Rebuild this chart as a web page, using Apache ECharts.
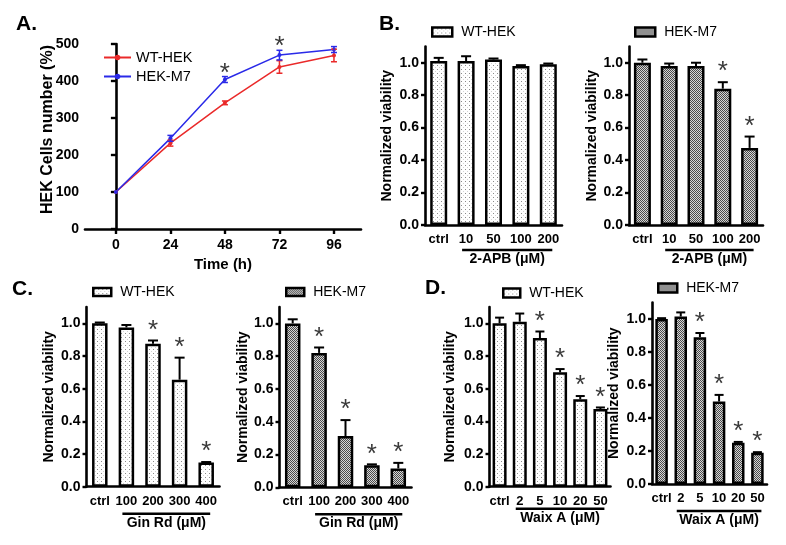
<!DOCTYPE html>
<html><head><meta charset="utf-8">
<script src="https://cdn.jsdelivr.net/npm/echarts@6/dist/echarts.min.js"></script>
<style>html,body{margin:0;padding:0;background:#fff}#c{width:786px;height:545px}</style>
</head><body><div id="c"></div>
<script>
// ---------- data ----------
const timeH = [0, 24, 48, 72, 96];
const timeTicks = [0, 24, 48, 72, 96];
const wtGrowth = [100, 232, 341, 438, 469];
const wtGrowthErr = [0, 8, 5, 17, 17];
const m7Growth = [100, 245, 404, 470, 485];
const m7GrowthErr = [0, 8, 8, 13, 8];
const growthStars = [0, 0, 1, 1, 0];

const apbCats = ['ctrl', '10', '50', '100', '200'];
const apbWT = [1.01, 1.01, 1.02, 0.98, 0.99];
const apbWTErr = [0.02, 0.03, 0.006, 0.005, 0.005];
const apbWTStars = [0, 0, 0, 0, 0];
const apbM7 = [1.0, 0.98, 0.98, 0.84, 0.475];
const apbM7Err = [0.02, 0.015, 0.02, 0.04, 0.07];
const apbM7Stars = [0, 0, 0, 1, 1];

const ginCats = ['ctrl', '100', '200', '300', '400'];
const ginWT = [1.0, 0.975, 0.875, 0.655, 0.148];
const ginWTErr = [0.005, 0.015, 0.02, 0.135, 0.003];
const ginWTStars = [0, 0, 1, 1, 1];
const ginM7 = [1.0, 0.82, 0.313, 0.135, 0.115];
const ginM7Err = [0.025, 0.033, 0.097, 0.005, 0.034];
const ginM7Stars = [0, 1, 1, 1, 1];

const waixCats = ['ctrl', '2', '5', '10', '20', '50'];
const waixWT = [1.0, 1.01, 0.91, 0.70, 0.535, 0.475];
const waixWTErr = [0.035, 0.05, 0.04, 0.02, 0.02, 0.01];
const waixWTStars = [0, 0, 1, 1, 1, 1];
const waixM7 = [1.0, 1.015, 0.89, 0.50, 0.25, 0.19];
const waixM7Err = [0.005, 0.025, 0.025, 0.04, 0.005, 0.003];
const waixM7Stars = [0, 0, 1, 1, 1, 1];

const viabTicks = [0, 0.2, 0.4, 0.6, 0.8, 1.0];

// ---------- styles ----------
const FF = 'Liberation Sans, Arial, sans-serif';
function pat(size, bg, dots) {
  const c = document.createElement('canvas'); c.width = c.height = size;
  const g = c.getContext('2d'); g.fillStyle = bg; g.fillRect(0, 0, size, size);
  dots.forEach(d => { g.fillStyle = d[2]; g.fillRect(d[0], d[1], 1, 1); });
  return { image: c, repeat: 'repeat' };
}
const wtFill = pat(4, '#ffffff', [[1, 1, '#8a8a8a'], [3, 3, '#d4d4d4']]);
const m7Fill = pat(2, '#d6d6d6', [[0, 0, '#4a4a4a'], [1, 1, '#4a4a4a']]);

const grids = [
  { left: 85, top: 44, width: 276, height: 185 },
  { left: 425, top: 46.5, width: 137, height: 178.5 },
  { left: 629, top: 46.5, width: 134, height: 178.5 },
  { left: 86.5, top: 307, width: 133, height: 179.7 },
  { left: 279.5, top: 307, width: 132, height: 180.3 },
  { left: 489.5, top: 307, width: 121, height: 179.7 },
  { left: 652, top: 302.5, width: 115, height: 181.5 }
].map(g => Object.assign({ outerBoundsMode: 'none', containLabel: false }, g));

const axisLineStyle = { color: '#000', width: 2.6 };

const xAxes = [{
  gridIndex: 0, type: 'value', min: -13.6, max: 107.9,
  axisLine: { lineStyle: axisLineStyle }, splitLine: { show: false },
  axisTick: { length: 5, lineStyle: { width: 2.4, color: '#000' }, customValues: timeTicks },
  axisLabel: { customValues: timeTicks, color: '#000', fontFamily: FF, fontWeight: 'bold', fontSize: 14, margin: 9 },
  name: 'Time (h)', nameLocation: 'middle', nameGap: 28,
  nameTextStyle: { color: '#000', fontFamily: FF, fontWeight: 'bold', fontSize: 15 }
}];
const yAxes = [{
  gridIndex: 0, type: 'value', min: 0, max: 500, interval: 100,
  axisLine: { show: true, lineStyle: axisLineStyle }, splitLine: { show: false },
  axisTick: { show: true, length: 5, lineStyle: { width: 2.4, color: '#000' } },
  axisLabel: { color: '#000', fontFamily: FF, fontWeight: 'bold', fontSize: 14, margin: 6 },
  name: 'HEK Cells number (%)', nameLocation: 'middle', nameGap: 29, nameMoveOverlap: false,
  nameTextStyle: { color: '#000', fontFamily: FF, fontWeight: 'bold', fontSize: 16, padding: [0, 0, 0, 14] }
}];
const barPanels = [
  { g: 1, cats: apbCats, nameGap: 31 },
  { g: 2, cats: apbCats, nameGap: 28 },
  { g: 3, cats: ginCats, nameGap: 30 },
  { g: 4, cats: ginCats, nameGap: 29 },
  { g: 5, cats: waixCats, nameGap: 32 },
  { g: 6, cats: waixCats, nameGap: 31 }
];
barPanels.forEach(p => {
  xAxes.push({
    gridIndex: p.g, type: 'category', data: p.cats,
    axisLine: { lineStyle: axisLineStyle },
    axisTick: { alignWithLabel: true, length: 4, lineStyle: { width: 2.4, color: '#000' } },
    axisLabel: { interval: 0, color: '#000', fontFamily: FF, fontWeight: 'bold', fontSize: 13, margin: 8 }
  });
  yAxes.push({
    gridIndex: p.g, type: 'value', min: 0, max: 1.1,
    axisLine: { show: true, lineStyle: axisLineStyle }, splitLine: { show: false },
    axisTick: { show: true, length: 4, lineStyle: { width: 2.4, color: '#000' }, customValues: viabTicks },
    axisLabel: { customValues: viabTicks, formatter: v => v.toFixed(1), color: '#000', fontFamily: FF, fontWeight: 'bold', fontSize: 14, margin: 6 },
    name: 'Normalized viability', nameLocation: 'middle', nameGap: p.nameGap,
    nameTextStyle: { color: '#000', fontFamily: FF, fontWeight: 'bold', fontSize: 14 }
  });
});

function errSeries(idx, vals, errs, stars, opts) {
  return {
    type: 'custom', xAxisIndex: idx, yAxisIndex: idx, clip: false, z: 5, silent: true,
    data: vals.map((v, i) => [opts.xs ? opts.xs[i] : i, v, errs[i], stars[i]]),
    renderItem: (params, api) => {
      const x = api.value(0), v = api.value(1), e = api.value(2), s = api.value(3);
      const children = [];
      const color = opts.color || '#000';
      if (e > 0) {
        const lo = api.coord([x, opts.both ? v - e : v]);
        const hi = api.coord([x, v + e]);
        children.push({ type: 'line', shape: { x1: lo[0], y1: lo[1], x2: hi[0], y2: hi[1] }, style: { stroke: color, lineWidth: opts.lw || 2 } });
        children.push({ type: 'line', shape: { x1: hi[0] - opts.cap, y1: hi[1], x2: hi[0] + opts.cap, y2: hi[1] }, style: { stroke: color, lineWidth: opts.lw || 2 } });
        if (opts.both) children.push({ type: 'line', shape: { x1: lo[0] - opts.cap, y1: lo[1], x2: lo[0] + opts.cap, y2: lo[1] }, style: { stroke: color, lineWidth: opts.lw || 2 } });
      }
      if (s) {
        const hi = api.coord([x, v + e]);
        children.push({ type: 'text', style: { text: '*', x: hi[0], y: hi[1] - opts.starGap, align: 'center', verticalAlign: 'middle', textAlign: 'center', textVerticalAlign: 'middle', fill: '#3a3a3a', font: 'normal 26px ' + FF } });
      }
      return { type: 'group', children };
    }
  };
}
function bracketSeries(idx, first, last, label, gap) {
  return {
    type: 'custom', xAxisIndex: idx, yAxisIndex: idx, clip: false, silent: true,
    data: [[first, last]],
    renderItem: (params, api) => {
      const a = api.coord([api.value(0), 0]);
      const b = api.coord([api.value(1), 0]);
      const y = a[1] + gap;
      return { type: 'group', children: [
        { type: 'line', shape: { x1: a[0] - 4, y1: y, x2: b[0] + 4, y2: y }, style: { stroke: '#000', lineWidth: 2.4 } },
        { type: 'text', style: { text: label, x: (a[0] + b[0]) / 2, y: y + 2, align: 'center', verticalAlign: 'top', textAlign: 'center', textVerticalAlign: 'top', fill: '#000', font: 'bold 14px ' + FF } }
      ] };
    }
  };
}
function barSeries(idx, name, vals, fill, bw) {
  return {
    type: 'bar', name, xAxisIndex: idx, yAxisIndex: idx, data: vals, barWidth: bw,
    itemStyle: { color: fill, borderColor: '#000', borderWidth: 2.5 }, silent: true
  };
}

const series = [
  { type: 'line', name: 'WT-HEK', xAxisIndex: 0, yAxisIndex: 0, data: timeH.map((t, i) => [t, wtGrowth[i]]),
    symbol: 'circle', symbolSize: 4, itemStyle: { color: '#ea2a2a' }, lineStyle: { color: '#ea2a2a', width: 1.5 } },
  { type: 'line', name: 'HEK-M7', xAxisIndex: 0, yAxisIndex: 0, data: timeH.map((t, i) => [t, m7Growth[i]]),
    symbol: 'circle', symbolSize: 4, itemStyle: { color: '#2a2ae8' }, lineStyle: { color: '#2a2ae8', width: 1.5 } },
  errSeries(0, wtGrowth, wtGrowthErr, [0, 0, 0, 0, 0], { xs: timeH, both: true, cap: 3, color: '#ea2a2a', lw: 1.5, starGap: 4 }),
  errSeries(0, m7Growth, m7GrowthErr, growthStars, { xs: timeH, both: true, cap: 3, color: '#2a2ae8', lw: 1.5, starGap: 3 }),

  barSeries(1, 'WT-HEK bar', apbWT, wtFill, 17),
  errSeries(1, apbWT, apbWTErr, apbWTStars, { cap: 5, starGap: 10 }),
  bracketSeries(1, 1, 4, '2-APB (\u03BCM)', 25),
  barSeries(2, 'HEK-M7 bar', apbM7, m7Fill, 17),
  errSeries(2, apbM7, apbM7Err, apbM7Stars, { cap: 5, starGap: 10 }),
  bracketSeries(2, 1, 4, '2-APB (\u03BCM)', 25),

  barSeries(3, 'WT-HEK bar', ginWT, wtFill, 15.5),
  errSeries(3, ginWT, ginWTErr, ginWTStars, { cap: 5, starGap: 10 }),
  bracketSeries(3, 1, 4, 'Gin Rd (\u03BCM)', 27),
  barSeries(4, 'HEK-M7 bar', ginM7, m7Fill, 15.5),
  errSeries(4, ginM7, ginM7Err, ginM7Stars, { cap: 5, starGap: 10 }),
  bracketSeries(4, 1, 4, 'Gin Rd (\u03BCM)', 27),

  barSeries(5, 'WT-HEK bar', waixWT, wtFill, 14),
  errSeries(5, waixWT, waixWTErr, waixWTStars, { cap: 4.5, starGap: 10 }),
  bracketSeries(5, 1, 5, 'Waix A (\u03BCM)', 22),
  barSeries(6, 'HEK-M7 bar', waixM7, m7Fill, 12.5),
  errSeries(6, waixM7, waixM7Err, waixM7Stars, { cap: 4.5, starGap: 10 }),
  bracketSeries(6, 1, 5, 'Waix A (\u03BCM)', 27)
];

const legTxt = { color: '#000', fontFamily: FF, fontSize: 14 };
const barLeg = (name, fill, left, top, w, h) => ({
  data: [{ name, icon: 'rect' }], left, top, itemWidth: w, itemHeight: h, selectedMode: false,
  formatter: n => ' ' + n.replace(' bar', ''), textStyle: legTxt,
  itemStyle: { color: fill, borderColor: '#000', borderWidth: 2.5 }, padding: 0
});
const legends = [
  { data: ['WT-HEK', 'HEK-M7'], orient: 'vertical', left: 103, top: 50, itemWidth: 27, itemHeight: 7, itemGap: 4,
    selectedMode: false, textStyle: Object.assign({}, legTxt, { fontSize: 14.5 }), padding: 0 },
  barLeg('WT-HEK bar', wtFill, 431, 25, 20, 9),
  barLeg('HEK-M7 bar', m7Fill, 634, 25, 20, 9),
  barLeg('WT-HEK bar', wtFill, 92, 285, 18, 8),
  barLeg('HEK-M7 bar', m7Fill, 285, 285, 18, 8),
  barLeg('WT-HEK bar', wtFill, 502, 286, 17, 9),
  barLeg('HEK-M7 bar', m7Fill, 657, 281, 19, 9)
];

const ptitle = (text, left, top) => ({ text, left, top, padding: 0, textStyle: { fontFamily: FF, fontWeight: 'bold', fontSize: 21, color: '#000' } });

const chart = echarts.init(document.getElementById('c'), null, { renderer: 'canvas' });
chart.setOption({
  animation: false,
  backgroundColor: '#fff',
  title: [ptitle('A.', 16, 14), ptitle('B.', 379, 14), ptitle('C.', 12, 279), ptitle('D.', 425, 278)],
  legend: legends,
  grid: grids,
  xAxis: xAxes,
  yAxis: yAxes,
  series
});
</script>
</body></html>
